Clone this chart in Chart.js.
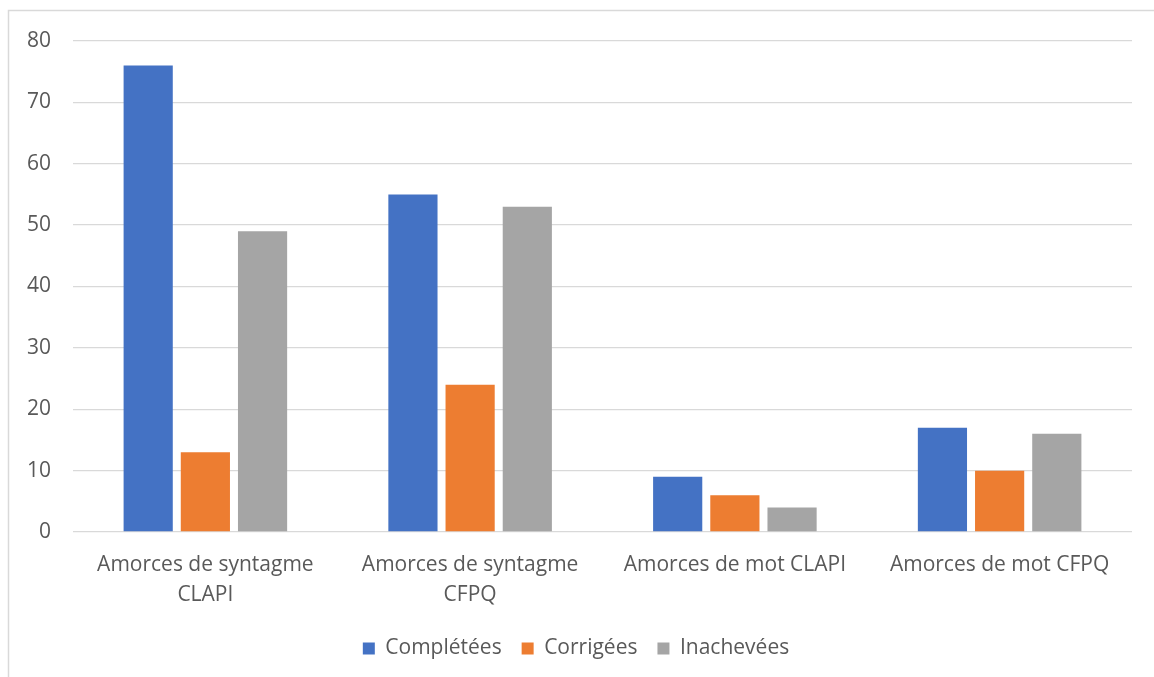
<!DOCTYPE html>
<html>
<head>
<meta charset="utf-8">
<script src="https://cdn.jsdelivr.net/npm/chart.js@4/dist/chart.umd.min.js"></script>
<style>
  html, body { margin: 0; padding: 0; background: #ffffff; }
  #wrap { position: relative; width: 1154px; height: 677px; }
  canvas { display: block; }
</style>
</head>
<body>
<div id="wrap"><canvas id="chart" width="1154" height="677"></canvas></div>
<script>
const categories = [
  ['Amorces de syntagme', 'CLAPI'],
  ['Amorces de syntagme', 'CFPQ'],
  'Amorces de mot CLAPI',
  'Amorces de mot CFPQ'
];
const seriesNames = ['Complétées', 'Corrigées', 'Inachevées'];
const completees = [76, 55, 9, 17];
const corrigees = [13, 24, 6, 10];
const inachevees = [49, 53, 4, 16];
const yTicks = [0, 10, 20, 30, 40, 50, 60, 70, 80];

const colors = ['#4472c4', '#ed7d31', '#a5a5a5'];
const textColor = '#595959';
const gridColor = '#d9d9d9';
const fontFamily = "'Open Sans', 'Liberation Sans', sans-serif";

// thin frame around the chart area, as in an office-style chart object
const framePlugin = {
  id: 'frame',
  beforeDraw(chart) {
    const ctx = chart.ctx;
    ctx.save();
    ctx.fillStyle = '#ffffff';
    ctx.fillRect(0, 0, chart.width, chart.height);
    ctx.strokeStyle = '#d9d9d9';
    ctx.lineWidth = 1.5;
    ctx.strokeRect(8.5, 10.5, chart.width + 20, chart.height + 20);
    ctx.restore();
  }
};

new Chart(document.getElementById('chart'), {
  type: 'bar',
  data: {
    labels: categories,
    datasets: [
      { label: seriesNames[0], data: completees, backgroundColor: colors[0] },
      { label: seriesNames[1], data: corrigees, backgroundColor: colors[1] },
      { label: seriesNames[2], data: inachevees, backgroundColor: colors[2] }
    ]
  },
  options: {
    responsive: false,
    animation: false,
    devicePixelRatio: 1,
    categoryPercentage: 0.648,
    barPercentage: 0.86,
    layout: { padding: { left: 20, right: 22, top: 41, bottom: 8 } },
    scales: {
      x: {
        grid: { display: false },
        border: { display: false },
        ticks: {
          color: textColor,
          font: { family: fontFamily, size: 21, lineHeight: 1.42 },
          padding: 10,
          maxRotation: 0,
          autoSkip: false
        },
        afterFit(scale) { scale.height = 86; }
      },
      y: {
        min: 0,
        max: 80,
        afterBuildTicks(scale) { scale.ticks = yTicks.map(v => ({ value: v })); },
        grid: { color: gridColor, lineWidth: 1.3, drawTicks: false },
        border: { display: false },
        ticks: {
          color: textColor,
          font: { family: fontFamily, size: 21 },
          padding: 22
        },
        afterFit(scale) { scale.width = 53; }
      }
    },
    plugins: {
      legend: {
        position: 'bottom',
        labels: {
          color: textColor,
          font: { family: fontFamily, size: 21 },
          boxWidth: 12,
          boxHeight: 12,
          padding: 20
        }
      },
      tooltip: { enabled: false }
    }
  },
  plugins: [framePlugin]
});
</script>
</body>
</html>
